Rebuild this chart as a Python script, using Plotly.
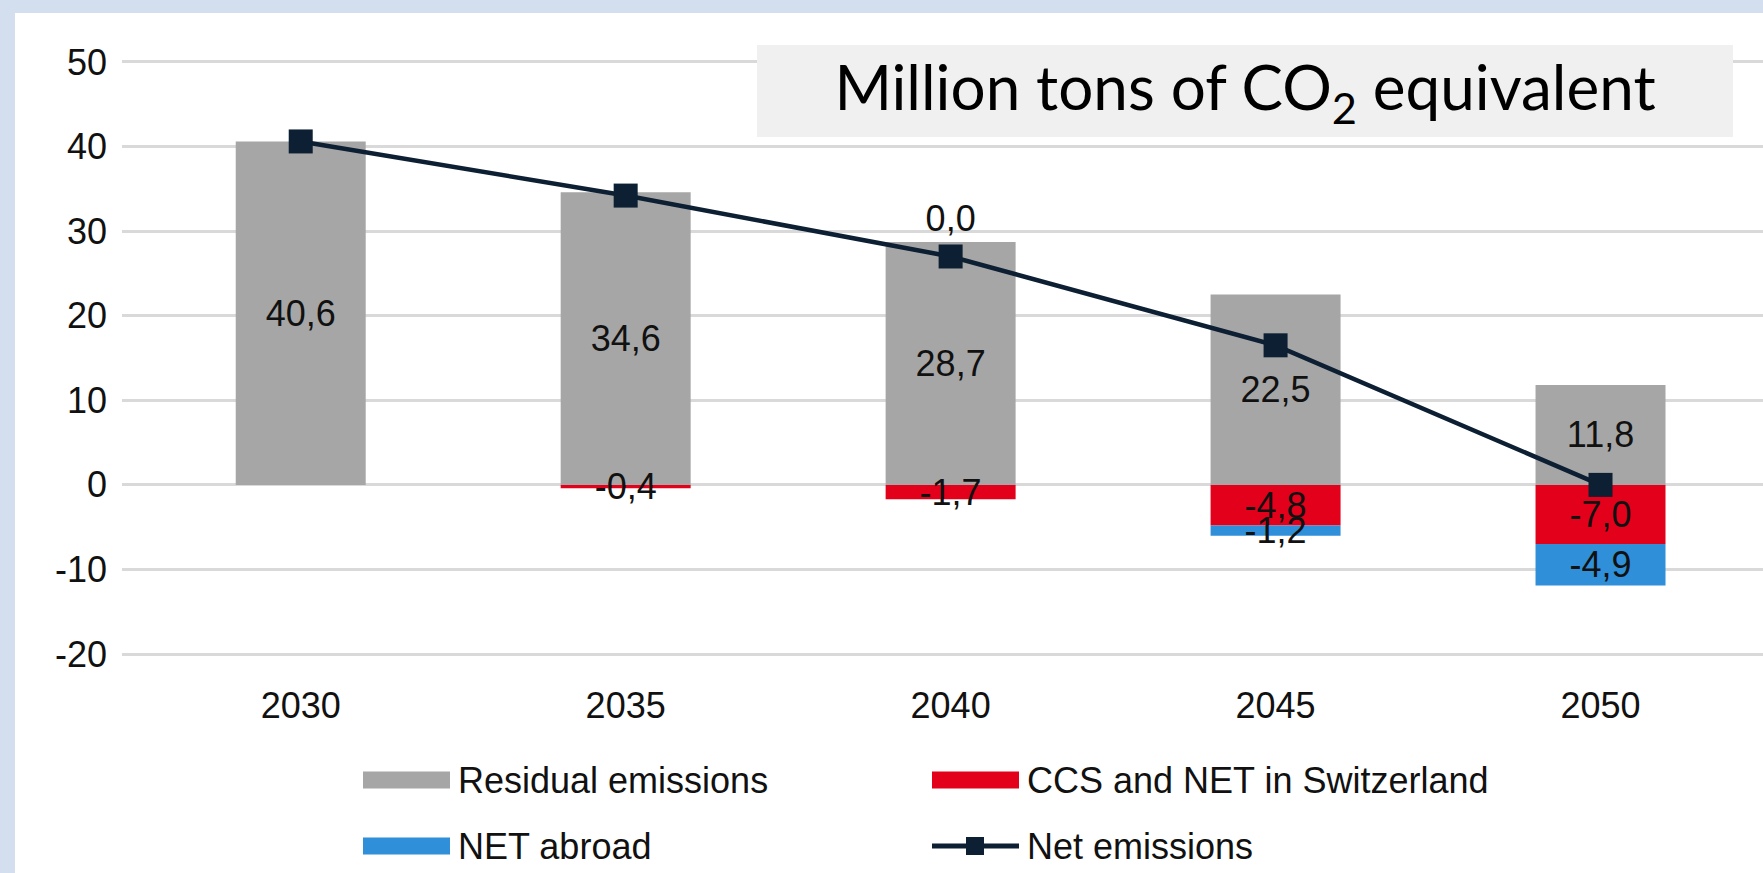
import plotly.graph_objects as go

# ---- data ----
years = ["2030", "2035", "2040", "2045", "2050"]
residual = [40.6, 34.6, 28.7, 22.5, 11.8]
ccs_ch = [None, -0.4, -1.7, -4.8, -7.0]
net_abroad = [None, None, 0.0, -1.2, -4.9]
net_emissions = [40.6, 34.2, 27.0, 16.5, 0.0]
y_ticks = [-20, -10, 0, 10, 20, 30, 40, 50]
y_tick_labels = ["-20", "-10", "0", "10", "20", "30", "40", "50"]

series_names = ["Residual emissions", "CCS and NET in Switzerland", "NET abroad", "Net emissions"]
title_text = "Million tons of CO<sub>2</sub> equivalent"

# ---- styles ----
W, H = 1763, 873
ML, MR, MT, MB = 122, 0, 45, 202
PW, PH = W - ML - MR, H - MT - MB
FONT = "Liberation Sans, Arial, sans-serif"
FS = 36
C_GRAY = "#a6a6a6"
C_RED = "#e3001b"
C_BLUE = "#2f8fd8"
C_NAVY = "#0c1f33"
C_BG = "#d3dfee"
C_TXT = "#111111"


def px(x):
    return (x - ML) / PW


def py(y):
    return (H - MB - y) / PH


fig = go.Figure()

label_font = dict(family=FONT, size=FS, color=C_TXT)

fig.add_trace(go.Bar(
    x=years, y=residual, name=series_names[0], marker=dict(color=C_GRAY, line=dict(width=0)),
    texttemplate="%{y:.1f}", textposition="inside", insidetextanchor="middle",
    constraintext="none", textfont=label_font, cliponaxis=False, textangle=0,
))
fig.add_trace(go.Bar(
    x=years, y=ccs_ch, name=series_names[1], marker=dict(color=C_RED, line=dict(width=0)),
    texttemplate="%{y:.1f}", textposition="inside", insidetextanchor="middle",
    constraintext="none", textfont=label_font, cliponaxis=False, textangle=0,
))
fig.add_trace(go.Bar(
    x=years, y=net_abroad, name=series_names[2], marker=dict(color=C_BLUE, line=dict(width=0)),
    texttemplate="%{y:.1f}", textposition=["inside", "inside", "outside", "inside", "inside"],
    insidetextanchor="middle", constraintext="none", textfont=label_font, cliponaxis=False, textangle=0,
))
fig.add_trace(go.Scatter(
    x=years, y=net_emissions, name=series_names[3], mode="lines+markers",
    line=dict(color=C_NAVY, width=4.5),
    marker=dict(symbol="square", size=24, color=C_NAVY),
    cliponaxis=False,
))

shapes = []
annotations = []

# white panel on the light-blue page
shapes.append(dict(type="rect", xref="paper", yref="paper", x0=px(15), x1=px(W), y0=py(H), y1=py(13),
                   fillcolor="white", line=dict(width=0), layer="below"))

# title box
annotations.append(dict(
    xref="paper", yref="paper", x=px(1245), y=py(91), xanchor="center", yanchor="middle",
    text=title_text, showarrow=False, bgcolor="#f0f0f0", width=976, height=92,
    borderpad=0, borderwidth=0,
    font=dict(family="Lato, sans-serif", size=62, color="#000000"),
))

# custom legend
leg_items = [
    (series_names[0], C_GRAY, 363, 780, "bar"),
    (series_names[1], C_RED, 932, 780, "bar"),
    (series_names[2], C_BLUE, 363, 846, "bar"),
    (series_names[3], C_NAVY, 932, 846, "line"),
]
for name, col, x0, yc, kind in leg_items:
    if kind == "bar":
        shapes.append(dict(type="rect", xref="paper", yref="paper", x0=px(x0), x1=px(x0 + 87),
                           y0=py(yc + 8.5), y1=py(yc - 8.5), fillcolor=col, line=dict(width=0)))
    else:
        shapes.append(dict(type="line", xref="paper", yref="paper", x0=px(x0), x1=px(x0 + 87),
                           y0=py(yc), y1=py(yc), line=dict(color=col, width=5)))
        shapes.append(dict(type="rect", xref="paper", yref="paper", x0=px(x0 + 34), x1=px(x0 + 52),
                           y0=py(yc + 9), y1=py(yc - 9), fillcolor=col, line=dict(width=0)))
    annotations.append(dict(xref="paper", yref="paper", x=px(x0 + 93), y=py(yc), xanchor="left",
                            yanchor="middle", text=name, showarrow=False,
                            font=dict(family=FONT, size=FS, color=C_TXT)))

fig.update_layout(
    width=W, height=H,
    margin=dict(l=ML, r=MR, t=MT, b=MB, pad=0),
    paper_bgcolor=C_BG, plot_bgcolor="white",
    barmode="relative", bargap=0.6,
    separators=",.",
    showlegend=False,
    shapes=shapes, annotations=annotations,
    font=dict(family=FONT, size=FS, color=C_TXT),
    xaxis=dict(type="category", range=[-0.55, 4.5], showgrid=False, zeroline=False, showline=False,
               ticks="", tickfont=dict(family=FONT, size=FS, color=C_TXT), ticklabelstandoff=10),
    yaxis=dict(range=[-22, 52], tickvals=y_ticks, ticktext=y_tick_labels, showgrid=True,
               gridcolor="#d9d9d9", gridwidth=2.5, zeroline=False, showline=False, ticks="",
               tickfont=dict(family=FONT, size=FS, color=C_TXT), ticklabelstandoff=14),
)

fig.write_html("out.html")
